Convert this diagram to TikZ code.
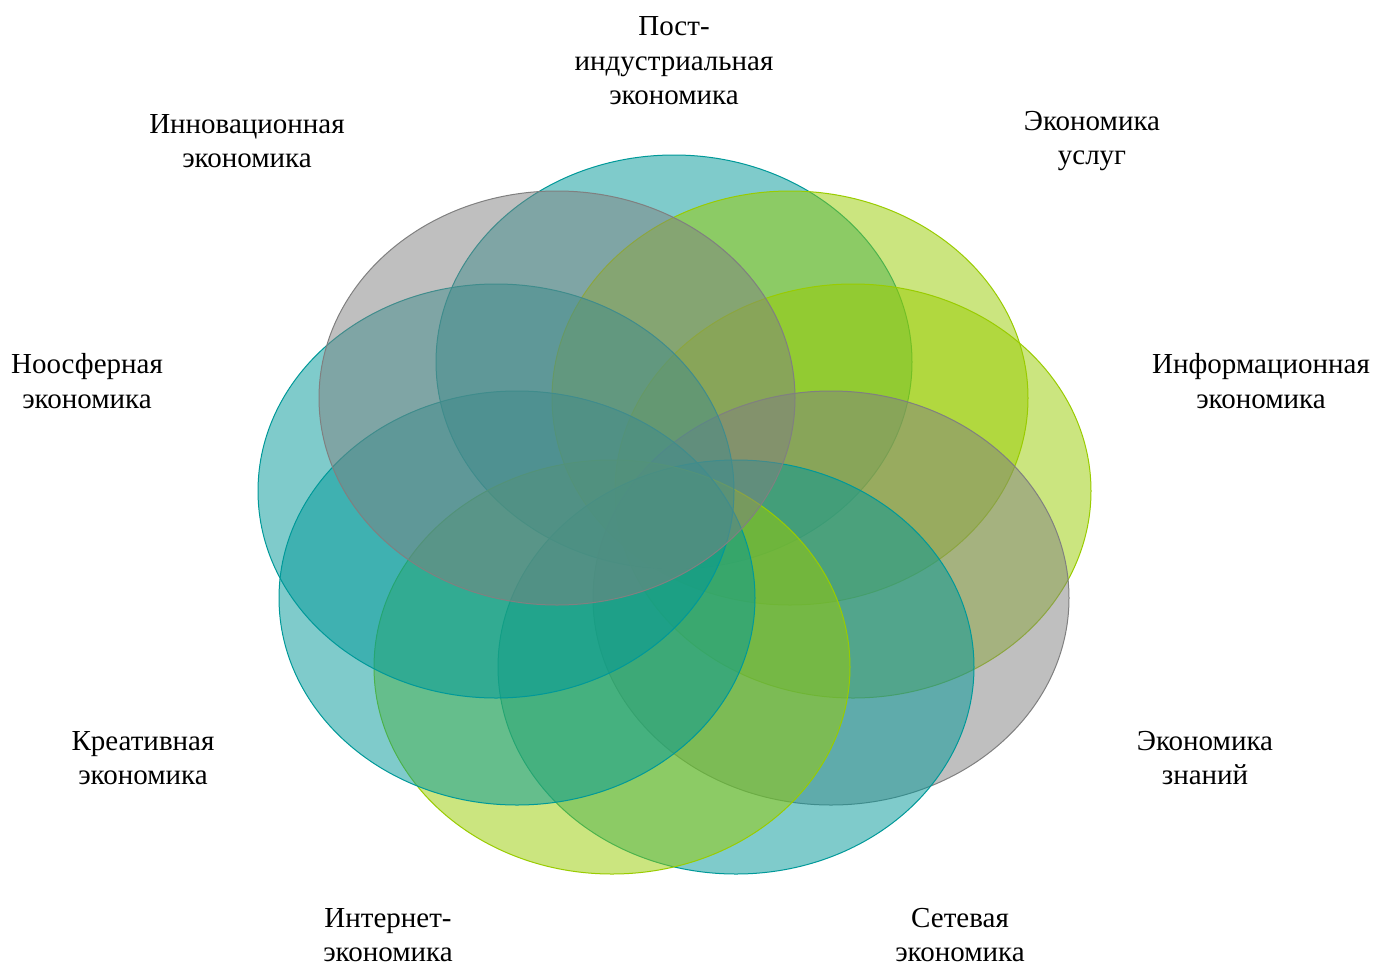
\documentclass[tikz,border=0pt]{standalone}
\usepackage{fontspec}
\setmainfont{Liberation Serif}
\definecolor{tealc}{RGB}{0,153,153}
\definecolor{greenc}{RGB}{153,204,0}
\definecolor{grayc}{RGB}{128,128,128}
\tikzset{
  venn/.style={fill opacity=0.5, line width=1pt},
  lbl/.style={align=center, inner sep=0pt, font=\fontsize{29}{34.5}\selectfont}
}
\begin{document}
\begin{tikzpicture}[x=1pt,y=-1pt]
\useasboundingbox[fill=white] (0,0) rectangle (1374,964);
% centres of the nine ellipses
\coordinate (c1) at (674,362);
\coordinate (c2) at (790,398);
\coordinate (c3) at (853,491);
\coordinate (c4) at (831,598);
\coordinate (c5) at (736,667);
\coordinate (c6) at (612,667);
\coordinate (c7) at (517,598);
\coordinate (c8) at (496,491);
\coordinate (c9) at (557,398);
\foreach \c/\col in {c1/tealc,c2/greenc,c3/greenc,c4/grayc,c5/tealc,c6/greenc,c7/tealc,c8/tealc,c9/grayc}{
  \path[venn, fill=\col, draw=\col] (\c) ellipse [x radius=238pt, y radius=207pt];
}
\node[lbl] (l1) at (674,61) {Пост-\\индустриальная\\экономика};
\node[lbl] (l2) at (1092,141) {Экономика\\услуг};
\node[lbl] (l3) at (1261,381) {Информационная\\экономика};
\node[lbl] (l4) at (1205,758) {Экономика\\знаний};
\node[lbl] (l5) at (960,935) {Сетевая\\экономика};
\node[lbl] (l6) at (388,935) {Интернет-\\экономика};
\node[lbl] (l7) at (143,758) {Креативная\\экономика};
\node[lbl] (l8) at (87,381) {Ноосферная\\экономика};
\node[lbl] (l9) at (247,141) {Инновационная\\экономика};
\end{tikzpicture}
\end{document}
